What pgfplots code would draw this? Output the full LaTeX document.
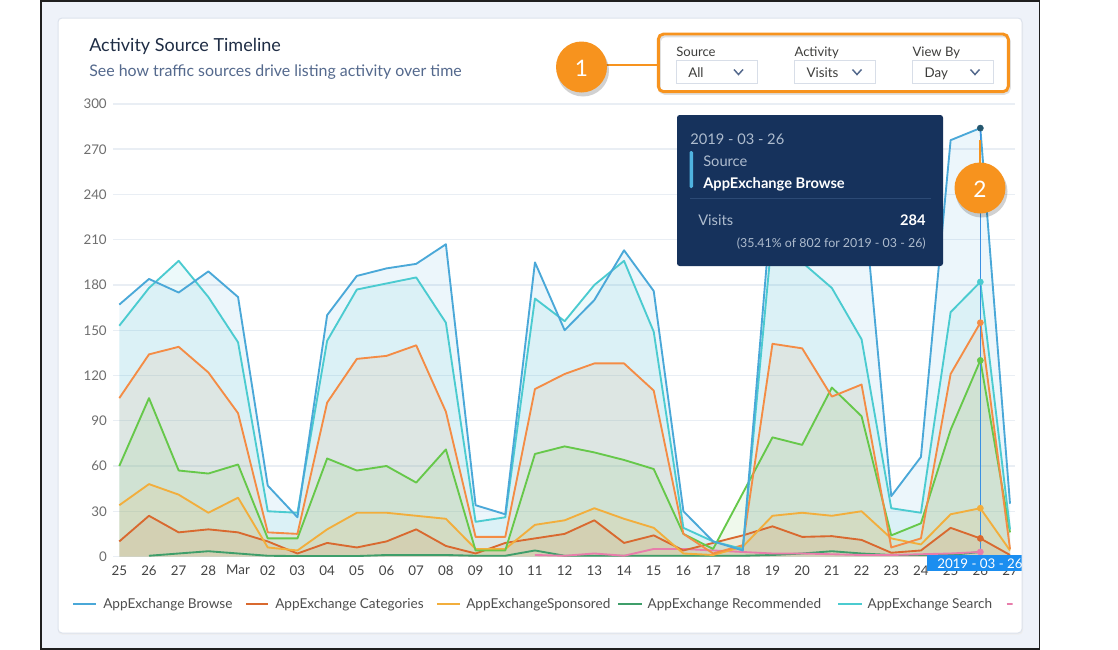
\documentclass[border=0pt]{standalone}
\usepackage{pgfplots}
\pgfplotsset{compat=1.18}
\usepackage{pgfplotstable}
\usepackage{fontspec}
\setmainfont{Lato}

\definecolor{cBrowse}{HTML}{4AA8D8}
\definecolor{cSearch}{HTML}{4BCBD0}
\definecolor{cOrange}{HTML}{F48C45}
\definecolor{cGreen}{HTML}{66C84A}
\definecolor{cYellow}{HTML}{F2AE3C}
\definecolor{cCat}{HTML}{D9692F}
\definecolor{cRec}{HTML}{3F9E6A}
\definecolor{cPink}{HTML}{E87DAB}
\definecolor{callout}{HTML}{F7931E}
\definecolor{navy}{HTML}{16325C}
\definecolor{framebg}{HTML}{EEF2F9}
\definecolor{cardborder}{HTML}{DCE2EC}
\definecolor{titlec}{HTML}{1F2D45}
\definecolor{subc}{HTML}{54698D}
\definecolor{gridc}{HTML}{E9EEF4}
\definecolor{ytickc}{HTML}{6E6E6E}
\definecolor{xtickc}{HTML}{444444}
\definecolor{legc}{HTML}{4E4E4E}
\definecolor{cursor}{HTML}{3A8FE3}
\definecolor{xbox}{HTML}{1B8EF0}
\definecolor{ttgray}{HTML}{AEBCCE}
\definecolor{ttline}{HTML}{2C4A75}
\definecolor{ttbar}{HTML}{4FB3E0}
\definecolor{ddborder}{HTML}{D8DEE8}
\definecolor{ddtext}{HTML}{3E3E3C}
\definecolor{chev}{HTML}{54698D}
\definecolor{dotBrowse}{HTML}{24566E}

\pgfplotstableread{
i browse search orange green yellow cat rec pink
0 167 153 105 60 34 10 nan nan
1 184 178 134 105 48 27 0.5 nan
2 175 196 139 57 41 16 2 nan
3 189 172 122 55 29 18 3.5 nan
4 172 142 95 61 39 16 2 nan
5 47 30 16 12 6 10 0.5 nan
6 26 29 15 12 4 2 0.3 nan
7 160 143 102 65 18 9 0.3 nan
8 186 177 131 57 29 6 0.3 nan
9 191 181 133 60 29 10 1 nan
10 194 185 140 49 27 18 1 nan
11 207 155 96 71 25 7 1 nan
12 34 23 13 4 5 2 0.5 nan
13 28 26 13 4 5 9 0.5 nan
14 195 171 111 68 21 12 4 1
15 150 156 121 73 24 15 0.5 0.5
16 170 180 128 69 32 24 0.5 2
17 203 196 128 64 25 9 0.5 0.5
18 176 149 110 58 19 14 0.5 5
19 30 19 15 15 2 4 0.5 5
20 10 10 2 5 1 9 0.5 4
21 4 5 7.5 42 6.5 14 0.5 3
22 240 215 141 79 27 20 1 2
23 235 195 138 74 29 13 2 2
24 245 178 106 112 27 13.5 3.5 1.5
25 252 144 114 93 30 11 2 1
26 40 32 6 14 12 2.5 1 1
27 66 29 12 22 8 4 1 1.5
28 276 162 121 84 28 19 1 2
29 284 182 155 130 32 12 3 3
30 35 18 5 16 4 1 nan nan
}\data

\begin{document}
\begin{tikzpicture}[x=0.75pt,y=-0.75pt]
% page
\fill[white] (0,0) rectangle (1118,650);
\filldraw[fill=framebg, draw=black!88, line width=1.1pt] (41,0.8) rectangle (1039.4,649.2);
% card
\fill[black!7, rounded corners=3pt] (58,19.5) rectangle (1023,634.5);
\filldraw[fill=white, draw=cardborder, line width=0.75pt, rounded corners=3pt] (58,18) rectangle (1022,633);

% title
\node[anchor=base west, inner sep=0pt, text=titlec, font=\fontsize{13.5}{16}\selectfont] at (89,51) {Activity Source Timeline};
\node[anchor=base west, inner sep=0pt, text=subc, font=\fontsize{11.95}{14}\selectfont] at (89,76.5) {See how traffic sources drive listing activity over time};

\begin{axis}[
  at={(84.75pt,-417.375pt)}, anchor=south west,
  width=676.5pt, height=339.4pt, scale only axis,
  xmin=-0.2122, xmax=30.168, ymin=0, ymax=300,
  axis line style={draw=none}, major tick length=0pt,
  ytick={0,30,...,300},
  xtick={0,...,30},
  xticklabels={25,26,27,28,Mar,02,03,04,05,06,07,08,09,10,11,12,13,14,15,16,17,18,19,20,21,22,23,24,25,26,27},
  ymajorgrids, grid style={draw=gridc, line width=1.1pt},
  /pgf/number format/assume math mode=true,
  yticklabel style={inner sep=0pt, xshift=-4.5pt, text=ytickc, font=\fontsize{10}{12}\selectfont},
  xticklabel style={inner sep=0pt, yshift=-6.5pt, text=xtickc, font=\fontsize{10}{12}\selectfont},
]
% fills
\addplot[draw=none, fill=cBrowse, fill opacity=0.1] table[x=i,y=browse]{\data} \closedcycle;
\addplot[draw=none, fill=cSearch, fill opacity=0.1] table[x=i,y=search]{\data} \closedcycle;
\addplot[draw=none, fill=cOrange, fill opacity=0.1] table[x=i,y=orange]{\data} \closedcycle;
\addplot[draw=none, fill=cGreen, fill opacity=0.1] table[x=i,y=green]{\data} \closedcycle;
\addplot[draw=none, fill=cYellow, fill opacity=0.1] table[x=i,y=yellow]{\data} \closedcycle;
\addplot[draw=none, fill=cCat, fill opacity=0.1] table[x=i,y=cat]{\data} \closedcycle;
% lines
\addplot[cRec, line width=1.4pt, line join=round] table[x=i,y=rec]{\data};
\addplot[cPink, line width=1.4pt, line join=round] table[x=i,y=pink]{\data};
\addplot[cCat, line width=1.4pt, line join=round] table[x=i,y=cat]{\data};
\addplot[cYellow, line width=1.4pt, line join=round] table[x=i,y=yellow]{\data};
\addplot[cGreen, line width=1.4pt, line join=round] table[x=i,y=green]{\data};
\addplot[cOrange, line width=1.4pt, line join=round] table[x=i,y=orange]{\data};
\addplot[cSearch, line width=1.4pt, line join=round] table[x=i,y=search]{\data};
\addplot[cBrowse, line width=1.4pt, line join=round] table[x=i,y=browse]{\data};
% cursor
\addplot[cursor, line width=0.9pt] coordinates {(29,0) (29,284)};
\addplot[only marks, mark=*, mark size=2.3pt, color=cSearch] coordinates {(29,182)};
\addplot[only marks, mark=*, mark size=2.3pt, color=cOrange] coordinates {(29,155)};
\addplot[only marks, mark=*, mark size=2.3pt, color=cGreen] coordinates {(29,130)};
\addplot[only marks, mark=*, mark size=2.3pt, color=cYellow] coordinates {(29,32)};
\addplot[only marks, mark=*, mark size=2.3pt, color=cCat] coordinates {(29,12)};
\addplot[only marks, mark=*, mark size=2.3pt, color=cPink] coordinates {(29,3)};
\addplot[only marks, mark=*, mark size=2.3pt, color=dotBrowse] coordinates {(29,284)};
\end{axis}

% highlighted x label
\begin{scope}
\clip (58,0) rectangle (1021.5,650);
\fill[xbox] (926.5,555) rectangle (1035,571);
\node[anchor=west, inner sep=0pt, text=white, font=\fontsize{10}{12}\selectfont] at (937,563.5) {2019 - 03 - 26};
\end{scope}

% tooltip
\fill[navy, rounded corners=2pt] (677,115) rectangle (943,266);
\node[anchor=base west, inner sep=0pt, text=ttgray, font=\fontsize{11}{13}\selectfont] at (690,144) {2019 - 03 - 26};
\fill[ttbar, rounded corners=1pt] (689.5,151) rectangle (693,188);
\node[anchor=base west, inner sep=0pt, text=ttgray, font=\fontsize{11}{13}\selectfont] at (703,166) {Source};
\node[anchor=base west, inner sep=0pt, text=white, font=\bfseries\fontsize{11}{13}\selectfont] at (703,188) {AppExchange Browse};
\draw[ttline, line width=0.8pt] (690,198.5) -- (931,198.5);
\node[anchor=base west, inner sep=0pt, text=ttgray, font=\fontsize{11}{13}\selectfont] at (698,225) {Visits};
\node[anchor=base east, inner sep=0pt, text=white, font=\bfseries\fontsize{11}{13}\selectfont] at (926,225) {284};
\node[anchor=base east, inner sep=0pt, text=ttgray, font=\fontsize{9.3}{11}\selectfont] at (926,247) {(35.41\% of 802 for 2019 - 03 - 26)};

% callout 2
\draw[draw=callout, line width=2.2pt] (980,140) -- (980,170);
\fill[black, opacity=0.18] (981.5,191.5) circle[radius=26];
\fill[callout] (980,188) circle[radius=25.5];
\node[text=white, font=\fontsize{17}{20}\selectfont] at (980,189) {2};

% callout 1 and dropdown box
\draw[draw=callout, line width=2.2pt] (605,65) -- (659,65);
\fill[black, opacity=0.18] (583,70.5) circle[radius=26];
\fill[callout] (581.5,67) circle[radius=25.5];
\node[text=white, font=\fontsize{17}{20}\selectfont] at (581.5,68) {1};
\draw[black, opacity=0.12, line width=2pt, rounded corners=4pt] (659.5,36) rectangle (1009.5,93.5);
\draw[draw=callout, line width=2.2pt, rounded corners=4pt] (658.3,34) rectangle (1008.3,91.7);

\foreach \lx/\lab/\val/\cx in {676/Source/All/738.5, 794.3/Activity/Visits/857, 912.3/View By/Day/975}{
  \node[anchor=base west, inner sep=0pt, text=ddtext, font=\fontsize{9.8}{11}\selectfont] at (\lx,56.5) {\lab};
  \draw[draw=ddborder, line width=0.75pt] (\lx,60.7) rectangle ({\lx+81},83.3);
  \node[anchor=base west, inner sep=0pt, text=ddtext, font=\fontsize{10}{12}\selectfont] at ({\lx+12},77) {\val};
  \draw[draw=chev, line width=1.1pt] ({\cx-4.5},69.5) -- (\cx,74.5) -- ({\cx+4.5},69.5);
}

% legend
\begin{scope}
\clip (58,590) rectangle (1012.5,620);
\foreach \xa/\xb/\col/\tx/\lab in {73/96/cBrowse/103/AppExchange Browse, 246/268.3/cCat/275/AppExchange Categories, 437.3/460/cYellow/466/AppExchangeSponsored, 618.3/641.7/cRec/647.3/AppExchange Recommended, 838.3/861.7/cSearch/867.3/AppExchange Search}{
  \draw[draw=\col, line width=2.2pt] (\xa,604) -- (\xb,604);
  \node[anchor=base west, inner sep=0pt, text=legc, font=\fontsize{10.2}{12}\selectfont] at (\tx,608.5) {\lab};
}
\draw[draw=cPink, line width=2.2pt] (1006.7,604) -- (1020,604);
\end{scope}
\end{tikzpicture}
\end{document}
